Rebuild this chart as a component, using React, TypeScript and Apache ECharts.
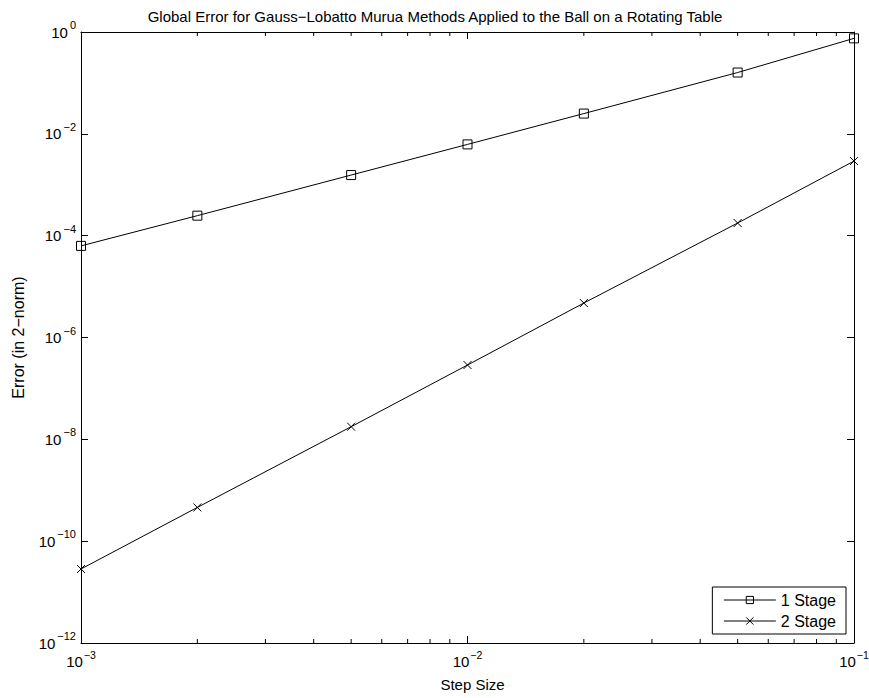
import React, { useEffect, useRef } from 'react';
import * as echarts from 'echarts';

const stepSizes = [0.001, 0.002, 0.005, 0.01, 0.02, 0.05, 0.1];
const stage1Errors = [6.3e-5, 2.47e-4, 1.55e-3, 6.2e-3, 2.5e-2, 0.16, 0.75];
const stage2Errors = [2.84e-11, 4.6e-10, 1.77e-8, 2.88e-7, 4.75e-6, 1.77e-4, 2.92e-3];
const minorXTicks = [
  0.002, 0.003, 0.004, 0.005, 0.006, 0.007, 0.008, 0.009,
  0.02, 0.03, 0.04, 0.05, 0.06, 0.07, 0.08, 0.09,
];
const seriesNames = ['1 Stage', '2 Stage'];
const titleText = 'Global Error for Gauss\u2212Lobatto Murua Methods Applied to the Ball on a Rotating Table';
const xName = 'Step Size';
const yName = 'Error (in 2\u2212norm)';

const FONT = '"Liberation Sans", Arial, Helvetica, sans-serif';

const expLabel = (v: number) => {
  const e = Math.round(Math.log10(v));
  const s = e < 0 ? '\u2212' + -e : String(e);
  return `{b|10}{s|${s}}`;
};

const richY = {
  b: { fontSize: 15, fontFamily: FONT, color: '#000', verticalAlign: 'bottom', lineHeight: 15 },
  s: { fontSize: 11, fontFamily: FONT, color: '#000', verticalAlign: 'bottom', lineHeight: 11, padding: [0, 0, 9, 2] },
};

const richX = {
  b: { fontSize: 15, fontFamily: FONT, color: '#000', verticalAlign: 'bottom', lineHeight: 15 },
  s: { fontSize: 10.5, fontFamily: FONT, color: '#000', verticalAlign: 'bottom', lineHeight: 11, padding: [0, 0, 9, 1] },
};

export default function App() {
  const ref = useRef<HTMLDivElement>(null);
  useEffect(() => {
    if (!ref.current) return;
    const chart = echarts.init(ref.current, undefined, { renderer: 'svg' });
    const tickStyle = { color: '#000', width: 1 };
    chart.setOption({
      animation: false,
      backgroundColor: '#fff',
      title: {
        text: titleText,
        left: 430,
        textAlign: 'center',
        top: 4,
        textStyle: { fontSize: 15, fontWeight: 'normal', fontFamily: FONT, color: '#000' },
      },
      grid: { left: 81, right: 15, top: 32, bottom: 55, outerBoundsMode: 'none' },
      legend: {
        data: seriesNames,
        orient: 'vertical',
        right: 23,
        bottom: 64,
        itemWidth: 52,
        itemHeight: 9,
        itemGap: 5,
        padding: [5, 10, 5, 11],
        borderColor: '#000',
        borderWidth: 1,
        borderRadius: 0,
        backgroundColor: '#fff',
        lineStyle: { width: 1 },
        itemStyle: { borderWidth: 1 },
        textStyle: { fontSize: 16, fontFamily: FONT, color: '#000' },
      },
      xAxis: [
        {
          type: 'log',
          logBase: 10,
          min: 0.001,
          max: 0.1,
          interval: 1,
          name: xName,
          nameLocation: 'middle',
          nameGap: 34,
          nameTextStyle: { fontSize: 15, fontFamily: FONT, color: '#000', padding: [0, 0, 0, 10] },
          axisLine: { lineStyle: tickStyle },
          axisTick: { inside: true, length: 7, lineStyle: tickStyle },
          splitLine: { show: false },
          axisLabel: { formatter: expLabel, rich: richX, margin: 11 },
        },
        {
          type: 'log',
          logBase: 10,
          min: 0.001,
          max: 0.1,
          interval: 1,
          position: 'top',
          axisLine: { lineStyle: tickStyle },
          axisTick: { inside: true, length: 7, lineStyle: tickStyle },
          splitLine: { show: false },
          axisLabel: { show: false },
        },
      ],
      yAxis: [
        {
          type: 'log',
          logBase: 10,
          min: 1e-12,
          max: 1,
          interval: 2,
          name: yName,
          nameLocation: 'middle',
          nameGap: 55,
          nameTextStyle: { fontSize: 16, fontFamily: FONT, color: '#000' },
          axisLine: { lineStyle: tickStyle },
          axisTick: { inside: true, length: 7, lineStyle: tickStyle },
          splitLine: { show: false },
          axisLabel: { formatter: expLabel, rich: richY, margin: 5 },
        },
        {
          type: 'log',
          logBase: 10,
          min: 1e-12,
          max: 1,
          interval: 2,
          position: 'right',
          axisLine: { lineStyle: tickStyle },
          axisTick: { inside: true, length: 7, lineStyle: tickStyle },
          splitLine: { show: false },
          axisLabel: { show: false },
        },
      ],
      series: [
        {
          name: seriesNames[0],
          type: 'line',
          data: stepSizes.map((x, i) => [x, stage1Errors[i]]),
          symbol: 'path://M0,0H10V10H0Z',
          symbolSize: 9,
          lineStyle: { color: '#000', width: 1 },
          itemStyle: { color: 'rgba(0,0,0,0)', borderColor: '#000', borderWidth: 1 },
          clip: false,
        },
        {
          name: seriesNames[1],
          type: 'line',
          data: stepSizes.map((x, i) => [x, stage2Errors[i]]),
          symbol: 'path://M0,0L10,10M10,0L0,10',
          symbolSize: 8,
          lineStyle: { color: '#000', width: 1 },
          itemStyle: { color: 'rgba(0,0,0,0)', borderColor: '#000', borderWidth: 1 },
          clip: false,
        },
        {
          name: 'minorTicks',
          type: 'custom',
          silent: true,
          data: minorXTicks.map((v) => [v, 1e-6]),
          renderItem: (params: any, api: any) => {
            const cs = params.coordSys;
            const x = api.coord([api.value(0), 1e-6])[0];
            const yb = cs.y + cs.height;
            const yt = cs.y;
            return {
              type: 'group',
              children: [
                { type: 'line', shape: { x1: x, y1: yb, x2: x, y2: yb - 4 }, style: { stroke: '#000', lineWidth: 1 } },
                { type: 'line', shape: { x1: x, y1: yt, x2: x, y2: yt + 4 }, style: { stroke: '#000', lineWidth: 1 } },
              ],
            };
          },
        },
      ],
    });
    return () => chart.dispose();
  }, []);
  return <div ref={ref} style={{ position: 'absolute', left: 0, top: 0, width: 869, height: 698 }} />;
}
